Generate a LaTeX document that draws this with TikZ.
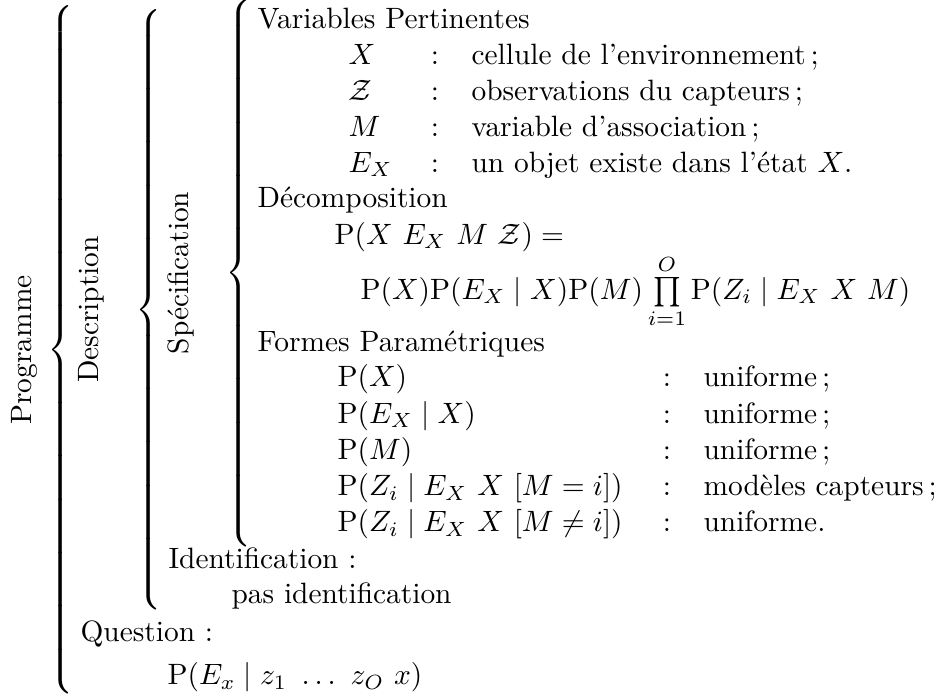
\documentclass[tikz,border=0pt]{standalone}
\usepackage{fontspec}
\newcommand{\tallbrace}[1]{$\delimitershortfall=0pt\left\{\vcenter{\hbox{\rule{0pt}{#1}}}\right.$}

\begin{document}
\begin{tikzpicture}[x=0.34pt, y=-0.34pt,
        rowtext/.style={anchor=base west, inner sep=0pt},
        colon/.style={anchor=base, inner sep=0pt},
        sidelabel/.style={rotate=90, anchor=base, inner sep=0pt},
        bracenode/.style={anchor=west, inner sep=0pt}]
        \useasboundingbox (0,0) rectangle (934,695);

        % Braces with their rotated names
        \node[sidelabel] (prog) at (32,350) {Programme};
        \node[bracenode] (bprog) at (47,350) {\tallbrace{230pt}};
        \node[sidelabel] (desc) at (98.5,309.5) {Description};
        \node[bracenode] (bdesc) at (135,309.5) {\tallbrace{204pt}};
        \node[sidelabel] (spec) at (188,273) {Spécification};
        \node[bracenode] (bspec) at (225,273) {\tallbrace{181pt}};

        % Variables
        \node[rowtext] (vars) at (257,28.5) {Variables Pertinentes};
        \foreach \v/\t [count=\i] in {X/{cellule de l'environnement\,;},
                {\mathcal{Z}}/{observations du capteurs\,;},
                M/{variable d'association\,;},
                E_X/{un objet existe dans l'état $X$.}} {
            \node[rowtext] (var\i) at (348,28.5+36*\i) {$\v$};
            \node[colon] (vcol\i) at (435,28.5+36*\i) {:};
            \node[rowtext] (vdef\i) at (471,28.5+36*\i) {\t};
        }

        % Decomposition
        \node[rowtext] (decomp) at (257,208) {Décomposition};
        \node[rowtext] (joint) at (334,244.5) {$\mathrm{P}(X\ E_X\ M\ \mathcal{Z}) =$};
        \node[rowtext] (prod) at (360,299.5) {$\mathrm{P}(X)\mathrm{P}(E_X \mid X)\mathrm{P}(M) \prod\limits_{i=1}^{O} \mathrm{P}(Z_i \mid E_X\ X\ M)$};

        % Parametric forms
        \node[rowtext] (forms) at (257,351.5) {Formes Paramétriques};
        \foreach \f/\t [count=\i] in {{\mathrm{P}(X)}/{uniforme\,;},
                {\mathrm{P}(E_X \mid X)}/{uniforme\,;},
                {\mathrm{P}(M)}/{uniforme\,;},
                {\mathrm{P}(Z_i \mid E_X\ X\ [M = i])}/{modèles capteurs\,;},
                {\mathrm{P}(Z_i \mid E_X\ X\ [M \neq i])}/{uniforme.}} {
            \node[rowtext] (form\i) at (337,350.5+36.3*\i) {$\f$};
            \node[colon] (fcol\i) at (667,350.5+36.3*\i) {:};
            \node[rowtext] (fdef\i) at (703,350.5+36.3*\i) {\t};
        }

        % Identification and question
        \node[rowtext] (ident) at (168,569) {Identification :};
        \node[rowtext] (noident) at (231,604) {pas identification};
        \node[rowtext] (quest) at (80,641.5) {Question :};
        \node[rowtext] (query) at (167,685) {$\mathrm{P}(E_x \mid z_1\ \ldots\ z_O\ x)$};
\end{tikzpicture}
\end{document}
